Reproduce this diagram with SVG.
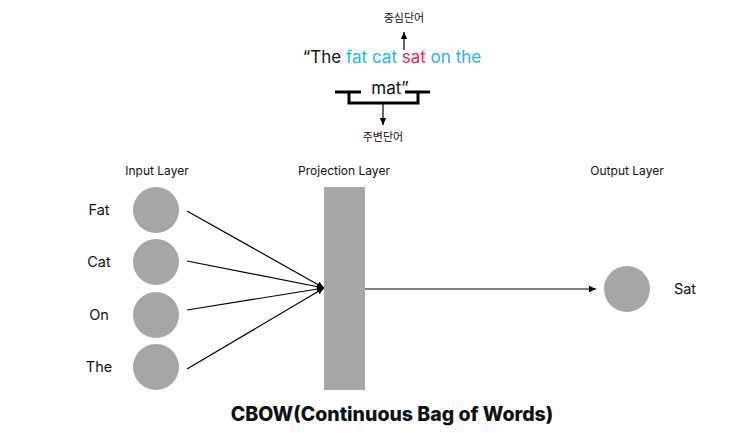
<svg xmlns="http://www.w3.org/2000/svg" width="735" height="433" viewBox="0 0 735 433">
<defs>
<style>
text{font-family:Inter,"Noto Sans CJK KR",sans-serif;fill:#111}
.lbl{font-size:12px;text-anchor:middle}
.word{font-size:14.5px;text-anchor:middle}
.node{fill:#a6a6a6}
.conn{stroke:#000;stroke-width:1.2;fill:none}
.br{stroke:#000;stroke-width:3;fill:none}
.kr{font-size:11px;text-anchor:middle}
.b{fill:#22b4e4}
.r{fill:#e8285c}
</style>
<marker id="ah" markerWidth="8" markerHeight="8" refX="7" refY="4" orient="auto" markerUnits="userSpaceOnUse">
<path d="M0,0.8 L7,4 L0,7.2 Z" fill="#000"/>
</marker>
</defs>
<rect width="735" height="433" fill="#fff"/>

<g id="sentence">
<text class="kr" x="404" y="22">중심단어</text>
<text x="392" y="63" font-size="17" text-anchor="middle">“The <tspan class="b">fat cat </tspan><tspan class="r">sat</tspan><tspan class="b"> on the</tspan></text>
<text x="390" y="94" font-size="17" text-anchor="middle">mat”</text>
<path class="br" d="M335,92 H361 M405,92 H430 M349,92 V103 H418 V92"/>
<text class="kr" x="383" y="141">주변단어</text>
</g>

<g id="labels">
<text class="lbl" x="157" y="175">Input Layer</text>
<text class="lbl" x="344" y="175">Projection Layer</text>
<text class="lbl" x="627" y="175">Output Layer</text>
</g>

<g id="in-fat"><circle class="node" cx="156" cy="210" r="23"/><text class="word" x="99" y="215">Fat</text></g>
<g id="in-cat"><circle class="node" cx="156" cy="262" r="23"/><text class="word" x="99" y="267">Cat</text></g>
<g id="in-on"><circle class="node" cx="156" cy="315" r="23"/><text class="word" x="99" y="320">On</text></g>
<g id="in-the"><circle class="node" cx="156" cy="367" r="23"/><text class="word" x="99" y="372">The</text></g>
<g id="projection"><rect class="node" x="324" y="187" width="41" height="203"/></g>
<g id="out-sat"><circle class="node" cx="627" cy="289" r="23"/><text class="word" x="685" y="294">Sat</text></g>

<g id="connectors">
<line class="conn" x1="404" y1="50" x2="404" y2="32" marker-end="url(#ah)"/>
<line class="conn" x1="383" y1="103" x2="383" y2="125" marker-end="url(#ah)"/>
<line class="conn" x1="187" y1="211" x2="324" y2="288" marker-end="url(#ah)"/>
<line class="conn" x1="187" y1="261" x2="324" y2="288" marker-end="url(#ah)"/>
<line class="conn" x1="187" y1="310" x2="324" y2="288" marker-end="url(#ah)"/>
<line class="conn" x1="187" y1="369" x2="324" y2="288" marker-end="url(#ah)"/>
<line class="conn" x1="365" y1="289" x2="596" y2="289" marker-end="url(#ah)"/>
</g>

<g id="title"><text x="392" y="421" font-size="19.5" font-weight="800" text-anchor="middle">CBOW(Continuous Bag of Words)</text></g>
</svg>
